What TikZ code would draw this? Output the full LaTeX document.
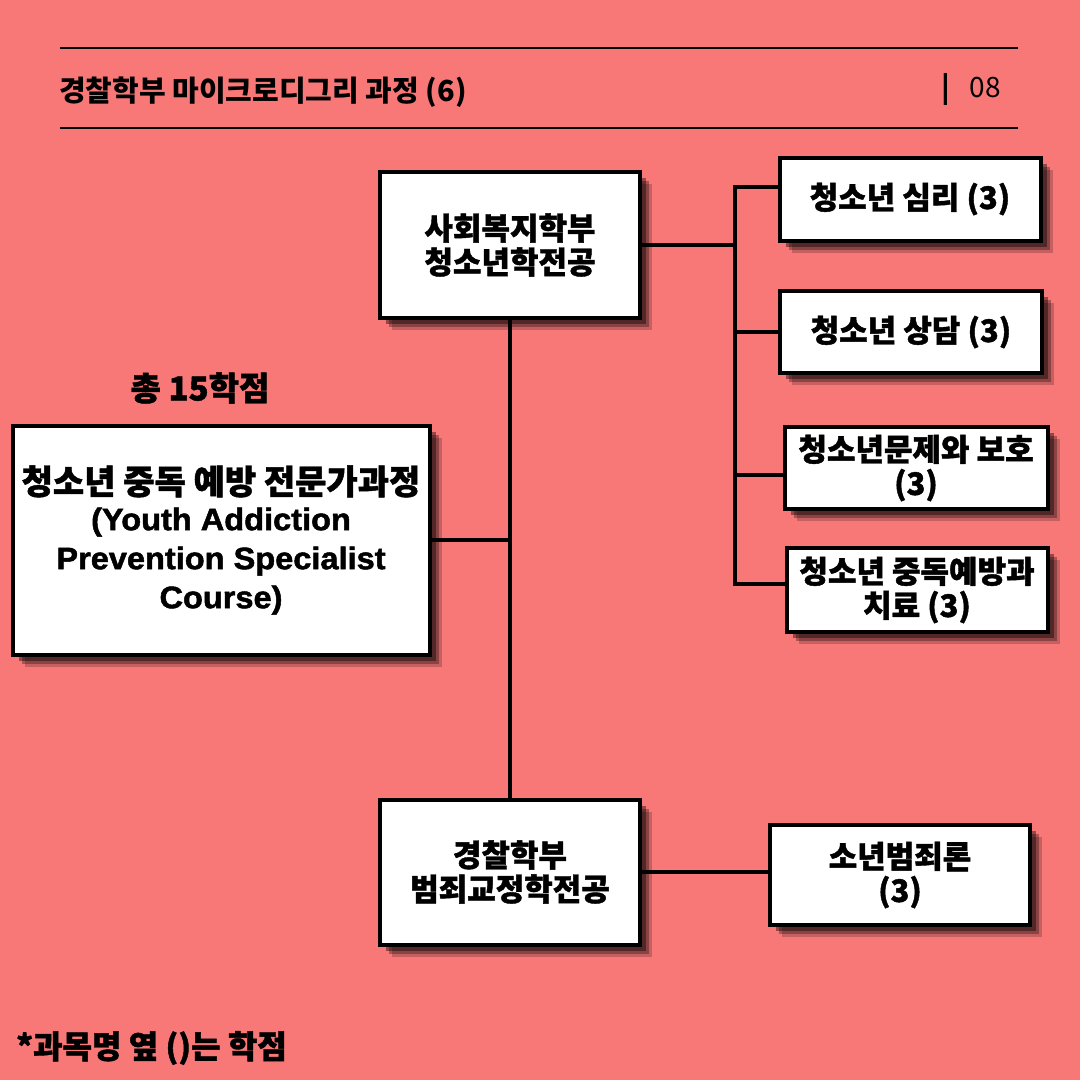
\documentclass[tikz,border=0pt]{standalone}
\usepackage{fontspec}
\setmainfont{Noto Sans CJK KR}
\newfontfamily\krheavy{Noto Sans CJK KR}[FakeBold=1.3]
\newfontfamily\enheavy{Liberation Sans}[FakeBold=1.6, FakeStretch=1.05]
\usepackage{tikz}
\usetikzlibrary{shadows}
\definecolor{coral}{HTML}{F87777}

\begin{document}
\begin{tikzpicture}[
  x=1pt, y=-1pt,
  box/.style={draw=black, line width=4pt, fill=white, align=center,
              inner sep=2pt, font=\fontsize{31}{34}\selectfont\krheavy\bfseries,
              drop shadow={shadow xshift=12pt, shadow yshift=-12pt, fill=black, opacity=.2},
              drop shadow={shadow xshift=9pt, shadow yshift=-9pt, fill=black, opacity=.3},
              drop shadow={shadow xshift=6pt, shadow yshift=-6pt, fill=black, opacity=.4}},
  link/.style={line width=4pt, draw=black, line join=miter},
  rule/.style={line width=2pt, draw=black}]
 \useasboundingbox (0,0) rectangle (1080,1080);
 \fill[coral] (0,0) rectangle (1080,1080);
 % header
 \coordinate (hl) at (60,48);
 \coordinate (hr) at (1018,48);
 \draw[rule] (hl) -- (hr);
 \draw[rule] ([yshift=-80pt]hl) -- ([yshift=-80pt]hr);
 \node[anchor=west, inner sep=0pt, font=\fontsize{29}{32}\selectfont\bfseries] (title) at (59,92)
      {경찰학부 마이크로디그리 과정 (6)};
 \node[anchor=east, inner sep=0pt, font=\fontsize{28}{30}\selectfont] (page) at (1001,89)
      {\textbf{|}\hspace{20pt}08};
 % boxes
 \node[box, minimum width=260, minimum height=146] (sw) at (510,245) {사회복지학부\\청소년학전공};
 \node[box, minimum width=261, minimum height=83] (psy) at (910,199) {청소년 심리 (3)};
 \node[box, minimum width=262, minimum height=82] (cou) at (911,332) {청소년 상담 (3)};
 \node[box, minimum width=263, minimum height=82] (pro) at (916,468) {청소년문제와 보호\\(3)};
 \node[box, minimum width=261, minimum height=84] (add) at (917,590) {청소년 중독예방과\\치료 (3)};
 \node[box, minimum width=417, minimum height=229, font=\fontsize{31}{39}\selectfont\enheavy\bfseries] (course) at (221,540)
      {{\fontsize{34}{36}\selectfont\krheavy\bfseries 청소년 중독 예방 전문가과정}\\[-3pt](Youth Addiction\\Prevention Specialist\\Course)};
 \node[box, minimum width=260, minimum height=145] (pol) at (510,872) {경찰학부\\범죄교정학전공};
 \node[box, minimum width=260, minimum height=100] (juv) at (900,875) {소년범죄론\\(3)};
 \node[font=\fontsize{33}{36}\selectfont\krheavy\bfseries] (total) at (200,388) {총 15학점};
 \node[anchor=west, inner sep=0pt, font=\fontsize{32}{36}\selectfont\krheavy\bfseries] (note) at (16,1048)
      {*과목명 옆 ()는 학점};
 % connectors
 \coordinate (bt) at (735,187);
 \coordinate (bb) at (735,584);
 \draw[link] (bt -| psy.west) -- (bt) -- (bb) -- (bb -| add.west);
 \draw[link] (sw.east) -- (sw.east -| bt);
 \draw[link] (cou.west) -- (cou.west -| bt);
 \draw[link] ([yshift=-7pt]pro.west) -- ([yshift=-7pt]pro.west -| bt);
 \draw[link] (sw.south) -- (pol.north);
 \draw[link] (course.east) -- (course.east -| sw.south);
 \draw[link] (pol.east) -- (pol.east -| juv.west);
\end{tikzpicture}
\end{document}
